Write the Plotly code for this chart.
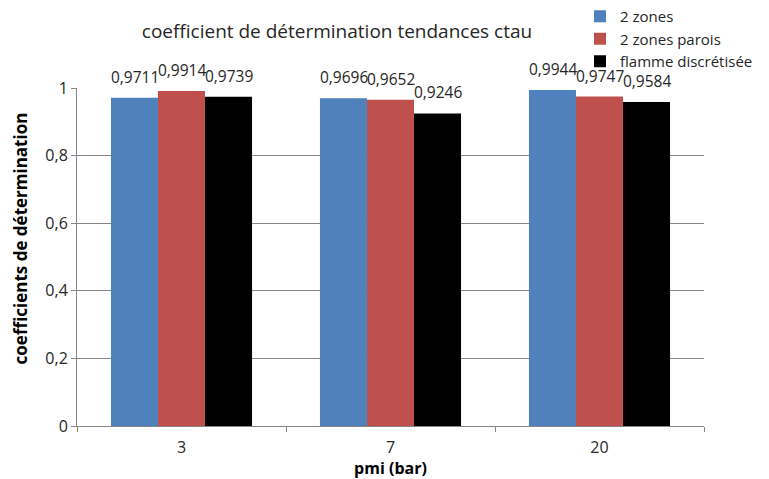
import plotly.graph_objects as go

# pressure levels (x categories) and determination coefficients per model
pmi = ["3", "7", "20"]
deux_zones = [0.9711, 0.9696, 0.9944]
deux_zones_parois = [0.9914, 0.9652, 0.9747]
flamme_discretisee = [0.9739, 0.9246, 0.9584]

series_names = ["2 zones", "2 zones parois", "flamme discrétisée"]
series_colors = ["#4F81BD", "#C0504D", "#000000"]
series_values = [deux_zones, deux_zones_parois, flamme_discretisee]

FONT = "Open Sans"
BAR_PX = 47  # on-screen width of one bar, used to centre value labels

fig = go.Figure()
for name, vals, col in zip(series_names, series_values, series_colors):
    fig.add_trace(go.Bar(
        x=pmi, y=vals, name=name,
        marker=dict(color=col, line=dict(width=0)),
    ))

# value labels above each bar (category axis: annotation x is the category index)
for k, vals in enumerate(series_values):
    for i, v in enumerate(vals):
        fig.add_annotation(
            x=i, y=v, xref="x", yref="y",
            text=f"{v:.4f}".replace(".", ","),
            showarrow=False, yanchor="bottom",
            xshift=(k - 1) * BAR_PX, yshift=8,
            font=dict(family=FONT, size=15.5, color="#262626"),
        )

# vertical axis title, placed a little above the plot's mid-height
fig.add_annotation(
    text="<b>coefficients de détermination</b>",
    xref="paper", yref="paper", x=-57 / 627, y=0.555,
    xanchor="center", yanchor="middle", textangle=-90, showarrow=False,
    font=dict(family=FONT, size=17, color="#000000"),
)

fig.update_layout(
    width=769, height=479,
    separators=", ",
    plot_bgcolor="white", paper_bgcolor="white",
    barmode="group", bargap=0.325, bargroupgap=0,
    margin=dict(l=77, r=65, t=88, b=53, autoexpand=False),
    font=dict(family=FONT, size=14, color="#262626"),
    title=dict(
        text="coefficient de détermination tendances ctau",
        x=337 / 769, xanchor="center", xref="container",
        y=1 - 31 / 479, yanchor="middle", yref="container",
        font=dict(family=FONT, size=19, color="#262626"),
    ),
    legend=dict(
        xref="container", yref="container",
        x=580 / 769, xanchor="left",
        y=1, yanchor="top",
        font=dict(family=FONT, size=15, color="#262626"),
        bgcolor="rgba(0,0,0,0)",
        tracegroupgap=0,
        itemwidth=30,
    ),
    showlegend=True,
)

fig.update_xaxes(
    type="category", tickangle=0, range=[-0.5, 2.5],
    showline=True, linecolor="#868686", linewidth=1,
    ticks="outside", tickson="boundaries", ticklen=5, tickcolor="#868686",
    showgrid=False, ticklabelstandoff=7,
    tickfont=dict(family=FONT, size=16, color="#262626"),
    title=dict(text="<b>pmi (bar)</b>", standoff=2,
               font=dict(family=FONT, size=16, color="#000000")),
)
fig.update_yaxes(
    range=[0, 1], dtick=0.2, tick0=0,
    showline=True, linecolor="#868686", linewidth=1,
    ticks="outside", ticklen=5, tickcolor="#868686",
    showgrid=True, gridcolor="#868686", gridwidth=1,
    zeroline=False,
    tickfont=dict(family=FONT, size=16, color="#262626"),
)

fig.write_html("out.html")
